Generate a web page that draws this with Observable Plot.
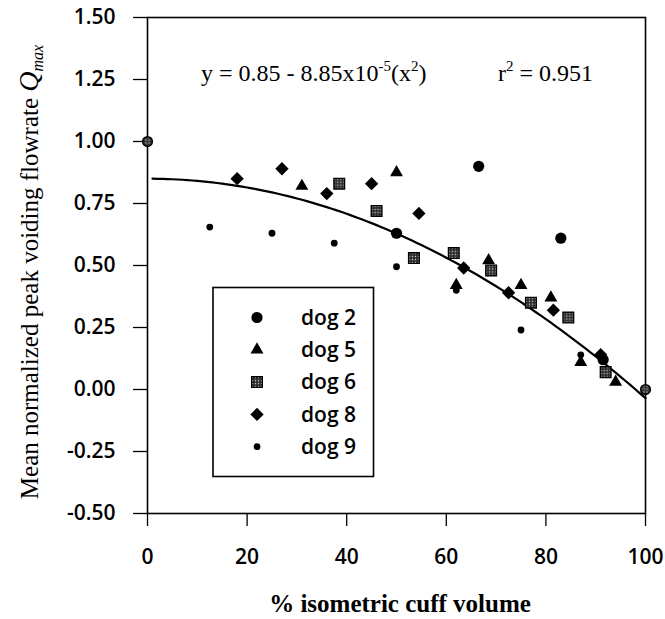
<!DOCTYPE html>
<html>
<head>
<meta charset="utf-8">
<script src="https://cdn.jsdelivr.net/npm/d3@7"></script>
<script src="https://cdn.jsdelivr.net/npm/@observablehq/plot@0.6"></script>
<style>
  body { margin: 0; background: #fff; }
  #chart { width: 665px; height: 619px; }
</style>
</head>
<body>
<div id="chart"></div>
<script>
// Mean normalized Qmax per dog, as [% isometric cuff volume, normalized Qmax]
const dog2 = [[50, 0.63], [66.5, 0.90], [83, 0.61], [91.5, 0.12]];
const dog5 = [[31, 0.82], [50, 0.875], [62, 0.42], [68.5, 0.52], [75, 0.42], [81, 0.37], [87, 0.11], [94, 0.03]];
const dog6 = [[38.5, 0.83], [46, 0.72], [53.5, 0.53], [61.5, 0.55], [69, 0.48], [77, 0.35], [84.5, 0.29], [92, 0.07]];
const dog8 = [[18, 0.85], [27, 0.89], [36, 0.79], [45, 0.83], [54.5, 0.71], [63.5, 0.49], [72.5, 0.39], [81.5, 0.32], [91, 0.14]];
const dog9 = [[12.5, 0.655], [25, 0.63], [37.5, 0.59], [50, 0.495], [62, 0.40], [75, 0.24], [87, 0.14]];
// shared normalization end points (all dogs)
const anchors = [[0, 1.0], [100, 0.0]];

// quadratic fit stated on the chart: y = a - b x^2
const fitA = 0.85;
const fitB = 8.85e-5;
const rSquared = "0.951";
const fitX = d3.range(1, 101, 1);
const fit = fitX.map(x => [x, fitA - fitB * x * x]);

const xTicks = [0, 20, 40, 60, 80, 100];
const yTicks = [-0.5, -0.25, 0, 0.25, 0.5, 0.75, 1.0, 1.25, 1.5];

const legendItems = [
  {label: "dog 2", symbol: "circle", r: 5.6, fill: "#000"},
  {label: "dog 5", symbol: "triangle", r: 4.8, fill: "#000"},
  {label: "dog 6", symbol: "square", r: 6.0, fill: "url(#stipple)"},
  {label: "dog 8", symbol: "diamond2", r: 6.0, fill: "#000"},
  {label: "dog 9", symbol: "circle", r: 3.4, fill: "#000"}
];
const series = [dog2, dog5, dog6, dog8, dog9];

const px = d => d[0], py = d => d[1];
const sans = "'Open Sans', sans-serif";
const serif = "'Liberation Serif', serif";

const chart = Plot.plot({
  width: 665,
  height: 619,
  marginLeft: 147,
  marginRight: 20,
  marginTop: 17,
  marginBottom: 106,
  style: {fontFamily: sans, fontSize: "21px", fontWeight: 600, color: "#000", background: "#fff"},
  x: {domain: [0, 100]},
  y: {domain: [-0.5, 1.5]},
  marks: [
    Plot.frame({stroke: "#000", strokeWidth: 1.6}),
    Plot.axisX({ticks: xTicks, tickSize: 13, tickPadding: 23, label: null, fontSize: 21, strokeWidth: 1.3}),
    Plot.axisY({ticks: yTicks, tickSize: 14, tickPadding: 18, tickFormat: d => d.toFixed(2), label: null, fontSize: 21, strokeWidth: 1.3}),
    Plot.line(fit, {x: px, y: py, stroke: "#000", strokeWidth: 2.2}),
    ...series.map((s, i) => Plot.dot(s, {
      x: px, y: py,
      symbol: legendItems[i].symbol,
      r: legendItems[i].r,
      fill: legendItems[i].fill,
      stroke: i === 2 ? "#000" : "none",
      strokeWidth: 1.4
    })),
    Plot.dot(anchors, {x: px, y: py, r: 4.8, fill: "url(#stipple)", stroke: "#000", strokeWidth: 1.6})
  ]
});

const svg = d3.select(chart);

// stippled fill for the dog 6 squares
const pat = svg.insert("defs", ":first-child").append("pattern")
  .attr("id", "stipple").attr("patternUnits", "userSpaceOnUse")
  .attr("width", 3).attr("height", 3);
pat.append("rect").attr("width", 3).attr("height", 3).attr("fill", "#2e2e2e");
pat.append("circle").attr("cx", 1.5).attr("cy", 1.5).attr("r", 0.7).attr("fill", "#d8d8d8");

// legend box
const symbolTypes = {circle: d3.symbolCircle, triangle: d3.symbolTriangle, square: d3.symbolSquare, diamond2: d3.symbolDiamond2};
const lg = svg.append("g").attr("text-anchor", "start");
lg.append("rect").attr("x", 213).attr("y", 287.5).attr("width", 160.5).attr("height", 189)
  .attr("fill", "#fff").attr("stroke", "#000").attr("stroke-width", 1.6);
legendItems.forEach((it, i) => {
  const cy = 317.5 + i * 32.3;
  lg.append("path")
    .attr("transform", `translate(257,${cy})`)
    .attr("d", d3.symbol(symbolTypes[it.symbol], Math.PI * it.r * it.r)())
    .attr("fill", it.fill)
    .attr("stroke", it.symbol === "square" ? "#000" : "none")
    .attr("stroke-width", 1.4);
  lg.append("text").attr("x", 301).attr("y", cy).attr("dy", "0.35em")
    .attr("text-anchor", "start")
    .attr("font-family", sans).attr("font-weight", 600).attr("font-size", 21)
    .text(it.label);
});

// fit equation and r²
const eq = svg.append("text").attr("x", 201).attr("y", 81).attr("text-anchor", "start")
  .attr("font-family", serif).attr("font-weight", 400).attr("font-size", 24);
eq.append("tspan").text(`y = ${fitA} - 8.85x10`);
eq.append("tspan").attr("dy", -10).attr("font-size", 15).text("-5");
eq.append("tspan").attr("dy", 10).text("(x");
eq.append("tspan").attr("dy", -10).attr("font-size", 15).text("2");
eq.append("tspan").attr("dy", 10).text(")");

const rt = svg.append("text").attr("x", 498).attr("y", 81).attr("text-anchor", "start")
  .attr("font-family", serif).attr("font-weight", 400).attr("font-size", 24);
rt.append("tspan").text("r");
rt.append("tspan").attr("dy", -10).attr("font-size", 15).text("2");
rt.append("tspan").attr("dy", 10).text(` = ${rSquared}`);

// axis titles
svg.append("text").attr("x", 400).attr("y", 612).attr("text-anchor", "middle")
  .attr("font-family", serif).attr("font-size", 25).attr("font-weight", "bold")
  .text("% isometric cuff volume");

const yt = svg.append("text").attr("transform", "translate(38,272) rotate(-90)")
  .attr("text-anchor", "middle")
  .attr("font-family", serif).attr("font-weight", 400).attr("font-size", 25);
yt.append("tspan").text("Mean normalized peak voiding flowrate ");
yt.append("tspan").attr("font-style", "italic").attr("font-size", 28).text("Q");
yt.append("tspan").attr("font-style", "italic").attr("font-size", 16).attr("dy", 5).text("max");

document.getElementById("chart").appendChild(chart);
</script>
</body>
</html>
